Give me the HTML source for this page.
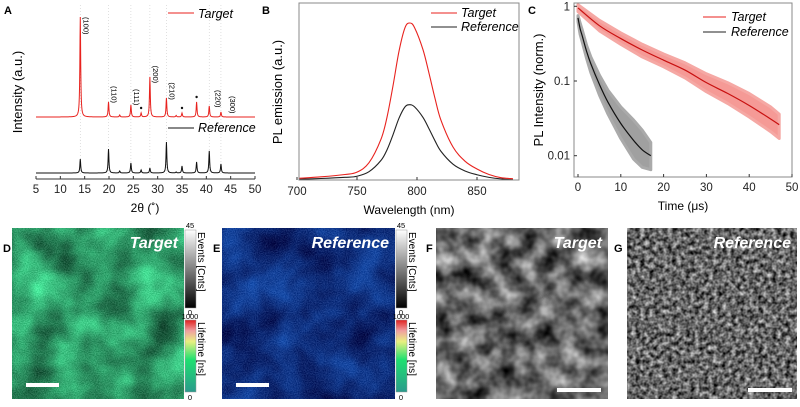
<!DOCTYPE html>
<html><head><meta charset="utf-8">
<style>
html,body{margin:0;padding:0;background:#fff;}
body{width:800px;height:402px;overflow:hidden;position:relative;font-family:"Liberation Sans",Arial,sans-serif;}
svg text{font-family:"Liberation Sans",Arial,sans-serif;}
</style></head>
<body>
<svg id="fig" width="800" height="402" viewBox="0 0 800 402" xmlns="http://www.w3.org/2000/svg">
<defs>
 <filter id="fD" x="0" y="0" width="1" height="1" color-interpolation-filters="sRGB">
  <feTurbulence type="fractalNoise" baseFrequency="0.025" numOctaves="3" seed="3" result="t"/>
  <feColorMatrix in="t" type="matrix" values="0.3 0 0 0 0.02  0.9 0 0 0 0.12  0.6 0 0 0 0.08  0 0 0 0 1" result="c"/>
  <feTurbulence type="fractalNoise" baseFrequency="0.9" numOctaves="1" seed="7" result="n"/>
  <feColorMatrix in="n" type="matrix" values="1 0 0 0 0  1 0 0 0 0  1 0 0 0 0  0 0 0 0 1" result="ng"/>
  <feComposite in="c" in2="ng" operator="arithmetic" k1="0" k2="1" k3="0.35" k4="-0.17"/>
 </filter>
 <filter id="fE" x="0" y="0" width="1" height="1" color-interpolation-filters="sRGB">
  <feTurbulence type="fractalNoise" baseFrequency="0.025" numOctaves="3" seed="11" result="t"/>
  <feColorMatrix in="t" type="matrix" values="0.12 0 0 0 0  0.4 0 0 0 -0.02  0.6 0 0 0 0.18  0 0 0 0 1" result="c"/>
  <feTurbulence type="fractalNoise" baseFrequency="0.9" numOctaves="1" seed="5" result="n"/>
  <feColorMatrix in="n" type="matrix" values="1 0 0 0 0  1 0 0 0 0  1 0 0 0 0  0 0 0 0 1" result="ng"/>
  <feComposite in="c" in2="ng" operator="arithmetic" k1="0" k2="1" k3="0.3" k4="-0.15"/>
 </filter>
 <filter id="fF" x="0" y="0" width="1" height="1" color-interpolation-filters="sRGB">
  <feTurbulence type="fractalNoise" baseFrequency="0.05" numOctaves="3" seed="2" result="t"/>
  <feColorMatrix in="t" type="matrix" values="1.1 0 0 0 -0.15  1.1 0 0 0 -0.15  1.1 0 0 0 -0.15  0 0 0 0 1"/>
 </filter>
 <filter id="fG" x="0" y="0" width="1" height="1" color-interpolation-filters="sRGB">
  <feTurbulence type="fractalNoise" baseFrequency="0.22" numOctaves="2" seed="4" result="t"/>
  <feColorMatrix in="t" type="matrix" values="1.2 0 0 0 -0.2  1.2 0 0 0 -0.2  1.2 0 0 0 -0.2  0 0 0 0 1"/>
 </filter>
 <linearGradient id="gEv" x1="0" y1="1" x2="0" y2="0">
  <stop offset="0" stop-color="#000"/><stop offset="1" stop-color="#fff"/>
 </linearGradient>
 <linearGradient id="gLt" x1="0" y1="1" x2="0" y2="0">
  <stop offset="0" stop-color="#2a9a8c"/><stop offset="0.45" stop-color="#1fe070"/>
  <stop offset="0.7" stop-color="#e8f080"/><stop offset="0.85" stop-color="#f0a0a0"/><stop offset="1" stop-color="#e02020"/>
 </linearGradient>
</defs>
<g id="root"></g>
</svg>
<script>
// ---------- Panel A data ----------
const xrdPos = [14.1, 19.9, 22.2, 24.5, 26.6, 28.4, 31.8, 33.8, 35.0, 38.0, 40.6, 43.0];
const xrdTarget = [100, 15, 2, 12, 4, 40, 19, 1.5, 4, 15, 11, 5];
const xrdRef = [14, 24, 2, 10, 3, 5, 31, 1, 7, 11, 22, 9];
const xrdTicks = [5,10,15,20,25,30,35,40,45,50];
const hklLabels = ["(100)","(110)","(111)","(200)","(210)","(220)","(300)"];
const hklAngles = [14.1, 19.9, 24.5, 28.4, 31.8, 40.6, 43.0];
const starAngles = [26.6, 35.0, 38.0];
// ---------- Panel B data ----------
const plWave = [690,700,720,740,750,760,770,775,780,785,790,794,798,805,810,815,820,830,840,850,860,870,880];
const plTarget = [0.005,0.01,0.02,0.035,0.05,0.11,0.26,0.40,0.60,0.82,0.97,1.0,0.97,0.83,0.68,0.52,0.38,0.21,0.12,0.07,0.035,0.015,0.008];
const plRefScale = [0.48];
const plTicks = [700,750,800,850];
// ---------- Panel C data ----------
const tT = [0,5,10,15,20,25,30,35,40,45,47];
const fitT = [0.95,0.55,0.37,0.26,0.19,0.14,0.095,0.068,0.047,0.031,0.026];
const hiT = [1.05,0.65,0.44,0.31,0.23,0.175,0.125,0.095,0.068,0.045,0.036];
const loT = [0.85,0.47,0.31,0.21,0.155,0.11,0.072,0.05,0.033,0.021,0.017];
const tR = [0,0.5,1,2,3,5,7,10,13,15,17];
const fitR = [0.7,0.5,0.4,0.25,0.17,0.09,0.052,0.027,0.016,0.012,0.01];
const hiR = [0.75,0.6,0.48,0.3,0.21,0.12,0.075,0.045,0.03,0.022,0.015];
const loR = [0.62,0.42,0.33,0.2,0.13,0.065,0.036,0.017,0.009,0.007,0.0065];
const tTicks = [0,10,20,30,40,50];
const yTicksC = [1,0.1,0.01];
const yTickLabelsC = ["1","0.1","0.01"];

const NS="http://www.w3.org/2000/svg";
const root=document.getElementById('root');
function el(tag,attrs,parent,txt){const e=document.createElementNS(NS,tag);for(const k in attrs)e.setAttribute(k,attrs[k]);if(txt!==undefined)e.textContent=txt;(parent||root).appendChild(e);return e;}
function smooth(pts){let d="M"+pts[0][0].toFixed(2)+","+pts[0][1].toFixed(2);for(let i=0;i<pts.length-1;i++){const p0=pts[Math.max(0,i-1)],p1=pts[i],p2=pts[i+1],p3=pts[Math.min(pts.length-1,i+2)];d+=" C"+(p1[0]+(p2[0]-p0[0])/6).toFixed(2)+","+(p1[1]+(p2[1]-p0[1])/6).toFixed(2)+" "+(p2[0]-(p3[0]-p1[0])/6).toFixed(2)+","+(p2[1]-(p3[1]-p1[1])/6).toFixed(2)+" "+p2[0].toFixed(2)+","+p2[1].toFixed(2);}return d;}
let t;

// ================= Panel A =================
const ax=v=>36+(v-5)*219/45;
const aTBase=117, aRBase=173, aScale=1.0;
t=el('text',{x:4,y:14,'font-size':11,'font-weight':'bold'},root,'A');

hklAngles.forEach(a=>{const l=el('line',{x1:ax(a),x2:ax(a),y1:5,y2:176,stroke:'#ccc','stroke-width':0.6,'stroke-dasharray':'1,2'});
 });
function xrdPath(h,base){const pts=[];for(let v=5;v<=50.001;v+=0.05){let y=0;for(let i=0;i<xrdPos.length;i++){const d=(v-xrdPos[i])/0.1;y+=h[i]/(1+d*d);}pts.push((pts.length?"L":"M")+ax(v).toFixed(2)+","+(base-y*aScale).toFixed(2));}return pts.join(" ");}
t=el('path',{d:xrdPath(xrdTarget,aTBase),fill:'none',stroke:'#e8221e','stroke-width':1});

t=el('path',{d:xrdPath(xrdRef,aRBase),fill:'none',stroke:'#111','stroke-width':1});

hklLabels.forEach((lab,i)=>{const a=hklAngles[i];const idx=xrdPos.indexOf(a);const top=aTBase-xrdTarget[idx];
 const lift=Math.min(16, Math.max(0,(top-20)*0.2));
 const tx=el('text',{x:0,y:0,'font-size':7.5,transform:`translate(${ax(a)+3+(i>=5?(i-4)*3:0)},${Math.max(top-lift,15)}) rotate(90)`},root,lab);
 });
starAngles.forEach(a=>{const idx=xrdPos.indexOf(a);const s=el('circle',{cx:ax(a),cy:aTBase-xrdTarget[idx]-5,r:1.2,fill:'#111'});
 });
t=el('line',{x1:36,x2:255,y1:179,y2:179,stroke:'#333','stroke-width':1});

xrdTicks.forEach(v=>{const l=el('line',{x1:ax(v),x2:ax(v),y1:179,y2:176,stroke:'#333'});
 const tx=el('text',{x:ax(v),y:193,'font-size':11.5,'text-anchor':'middle',fill:'#222'},root,String(v));});
t=el('text',{x:145,y:212,'font-size':12,'text-anchor':'middle'},root,'2θ (˚)');

t=el('text',{x:0,y:0,'font-size':13,'text-anchor':'middle',transform:'translate(22,92) rotate(-90)'},root,'Intensity (a.u.)');

t=el('line',{x1:168,x2:194,y1:13,y2:13,stroke:'#e8221e','stroke-width':1});
t=el('text',{x:198,y:18,'font-size':12.5,'font-style':'italic'},root,'Target');
t=el('line',{x1:168,x2:194,y1:128,y2:128,stroke:'#111','stroke-width':1});
t=el('text',{x:198,y:132,'font-size':12.5,'font-style':'italic'},root,'Reference');

// ================= Panel B =================
const bx=w=>297+(w-700)*1.2, by=v=>180-157*v;
t=el('text',{x:262,y:14,'font-size':11,'font-weight':'bold'},root,'B');
const clipB=el('clipPath',{id:'clipB'});el('rect',{x:299,y:3,width:220,height:177},clipB);
const gB=el('g',{'clip-path':'url(#clipB)'});
t=el('path',{d:smooth(plWave.map((w,i)=>[bx(w),by(plTarget[i]*plRefScale[0])])),fill:'none',stroke:'#222','stroke-width':1.1},gB);

t=el('path',{d:smooth(plWave.map((w,i)=>[bx(w),by(plTarget[i])])),fill:'none',stroke:'#e8221e','stroke-width':1.1},gB);

t=el('rect',{x:299,y:3,width:220,height:177,fill:'none',stroke:'#888','stroke-width':1});
plTicks.forEach(v=>{const l=el('line',{x1:bx(v),x2:bx(v),y1:180,y2:177,stroke:'#333'});
 const tx=el('text',{x:bx(v),y:195,'font-size':11.5,'text-anchor':'middle',fill:'#222'},root,String(v));});
t=el('text',{x:409,y:214,'font-size':12,'text-anchor':'middle'},root,'Wavelength (nm)');
t=el('text',{x:0,y:0,'font-size':13,'text-anchor':'middle',transform:'translate(282,92) rotate(-90)'},root,'PL emission (a.u.)');
t=el('line',{x1:431,x2:457,y1:13,y2:13,stroke:'#e8221e'});
t=el('text',{x:461,y:17,'font-size':12.5,'font-style':'italic'},root,'Target');
t=el('line',{x1:431,x2:457,y1:27,y2:27,stroke:'#222'});
t=el('text',{x:461,y:31,'font-size':12.5,'font-style':'italic'},root,'Reference');

// ================= Panel C =================
const cx=v=>578+v*4.28, cy=v=>81-74.7*Math.log10(v/0.1);
t=el('text',{x:528,y:14,'font-size':11,'font-weight':'bold'},root,'C');
function band(tt,hi,lo){const up=tt.map((v,i)=>[cx(v),cy(hi[i])]);const dn=tt.map((v,i)=>[cx(v),cy(lo[i])]).reverse();return "M"+up.concat(dn).map(p=>p[0].toFixed(1)+","+p[1].toFixed(1)).join(" L")+" Z";}
t=el('path',{d:band(tT,hiT,loT),fill:'#f59a96',stroke:'#f5a8a4','stroke-width':3,'stroke-linejoin':'round'});
t=el('path',{d:band(tR,hiR,loR),fill:'#a0a0a0',stroke:'#aaa','stroke-width':3,'stroke-linejoin':'round'});
t=el('path',{d:smooth(tT.map((v,i)=>[cx(v),cy(fitT[i])])),fill:'none',stroke:'#c81010','stroke-width':1.2});
t=el('path',{d:smooth(tR.map((v,i)=>[cx(v),cy(fitR[i])])),fill:'none',stroke:'#111','stroke-width':1.2});
t=el('rect',{x:574,y:3,width:218,height:174,fill:'none',stroke:'#888','stroke-width':1});
tTicks.forEach(v=>{const l=el('line',{x1:cx(v),x2:cx(v),y1:177,y2:174,stroke:'#333'});
 const tx=el('text',{x:cx(v),y:191,'font-size':11.5,'text-anchor':'middle',fill:'#222'},root,String(v));});
yTicksC.forEach((v,i)=>{const l=el('line',{x1:574,x2:577,y1:cy(v),y2:cy(v),stroke:'#333'});
 const tx=el('text',{x:570,y:cy(v)+4,'font-size':11.5,'text-anchor':'end',fill:'#222'},root,yTickLabelsC[i]);});
t=el('text',{x:683,y:210,'font-size':12,'text-anchor':'middle'},root,'Time (μs)');
t=el('text',{x:0,y:0,'font-size':13,'text-anchor':'middle',transform:'translate(543,90) rotate(-90)'},root,'PL Intensity (norm.)');
t=el('line',{x1:703,x2:726,y1:17,y2:17,stroke:'#e8221e'});
t=el('text',{x:731,y:21,'font-size':12.5,'font-style':'italic'},root,'Target');
t=el('line',{x1:703,x2:726,y1:32,y2:32,stroke:'#222'});
t=el('text',{x:731,y:36,'font-size':12.5,'font-style':'italic'},root,'Reference');

// ================= Images =================
function image(letter,lx,x,w,filt,label,sb,name){
 t=el('text',{x:lx,y:252,'font-size':11,'font-weight':'bold'},root,letter);
 const s=el('svg',{x:x,y:228,width:w,height:171});
 el('rect',{x:0,y:0,width:w,height:171,fill:'#777',filter:'url(#'+filt+')'},s);
 t=el('text',{x:x+w-6,y:248,'font-size':16,'font-weight':'bold','font-style':'italic',fill:'#fff','text-anchor':'end'},root,label);
 t=el('rect',{x:sb[0],y:sb[1],width:sb[2],height:4,fill:'#fff'});
}
function cbar(x){
 t=el('rect',{x:x,y:230,width:11,height:78,fill:'url(#gEv)',stroke:'#999','stroke-width':0.5});
 t=el('rect',{x:x,y:320,width:11,height:72,fill:'url(#gLt)',stroke:'#999','stroke-width':0.5});
 t=el('text',{x:x+5,y:228,'font-size':7.5,'text-anchor':'middle'},root,'45');
 t=el('text',{x:x+5,y:315,'font-size':7.5,'text-anchor':'middle'},root,'0');
 t=el('text',{x:x+5,y:319,'font-size':7.5,'text-anchor':'middle'},root,'1000');
 t=el('text',{x:x+5,y:400,'font-size':7.5,'text-anchor':'middle'},root,'0');
 t=el('text',{x:0,y:0,'font-size':10,transform:`translate(${x+13},232) rotate(90)`},root,'Events  [Cnts]');
 t=el('text',{x:0,y:0,'font-size':10,transform:`translate(${x+13},322) rotate(90)`},root,'Lifetime  [ns]');
}
image('D',3,12,172,'fD','Target',[26,383,33],'flim-target-image');
cbar(185);
image('E',213,222,173,'fE','Reference',[236,383,33],'flim-reference-image');
cbar(396);
image('F',426,436,172,'fF','Target',[557,388,44],'sem-target-image');
image('G',614,627,170,'fG','Reference',[748,388,44],'sem-reference-image');
</script>
</body></html>
